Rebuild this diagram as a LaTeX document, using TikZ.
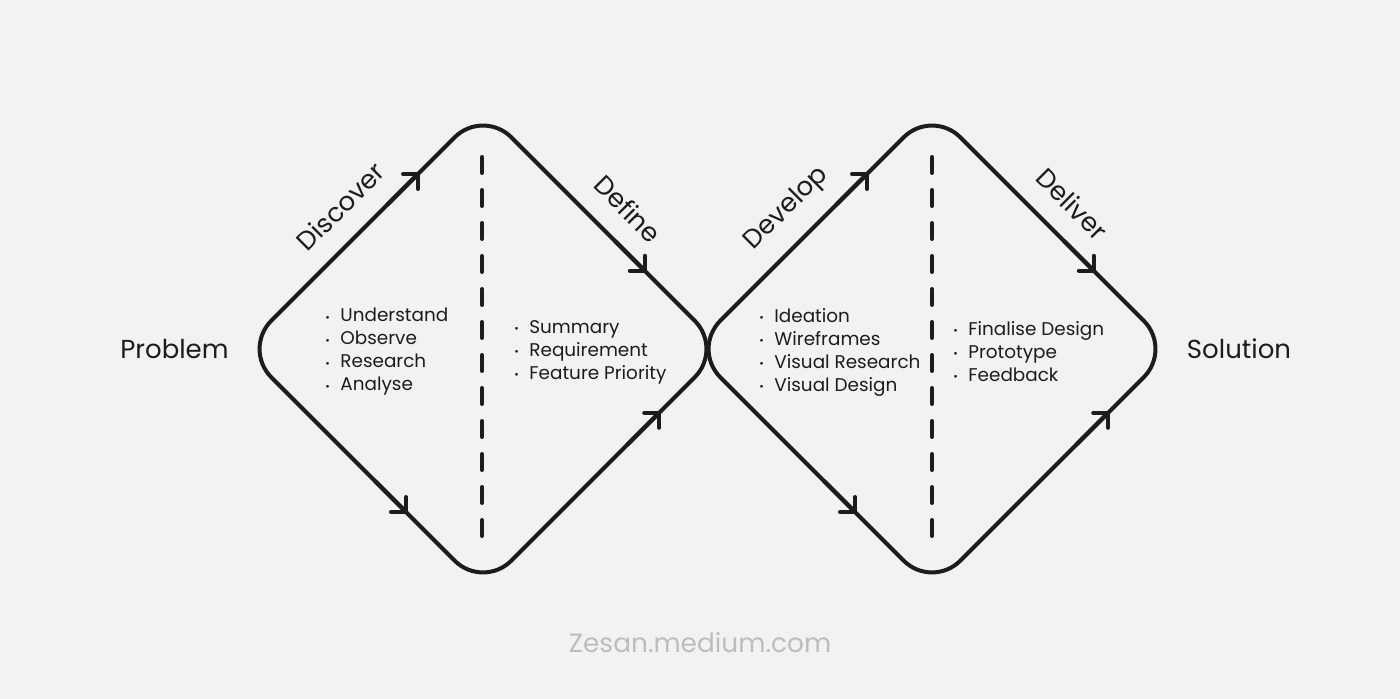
\documentclass[tikz,border=0pt]{standalone}
\usepackage{fontspec}
\setmainfont{Poppins}
\usetikzlibrary{arrows.meta, calc}

\definecolor{fondo}{HTML}{F2F2F2}
\definecolor{trazo}{HTML}{1C1C1C}
\definecolor{marca}{HTML}{BDBDBD}

\newcommand{\punto}{\makebox[7.5pt][l]{\raisebox{0.05em}{\scalebox{0.6}{\textbullet}}}}

\begin{document}
\begin{tikzpicture}[x=0.5pt, y=-0.5pt]
    \tikzset{
		loopline/.style={draw=trazo, line width=2pt, rounded corners=20pt, line join=round},
		flow/.style={draw=trazo, line width=2pt, -{Straight Barb[length=5.3pt, width=10.6pt, round]}},
		divider/.style={draw=trazo, line width=2pt, line cap=round, dash pattern=on 8pt off 8.5pt},
		phase/.style={font=\fontsize{13}{15}\selectfont, text=trazo, sloped, above=16pt, inner sep=0pt, anchor=center},
		items/.style={font=\fontsize{9.2}{11.5}\selectfont, text=trazo, align=left, inner sep=0pt, anchor=west},
		edge/.style={font=\fontsize{13}{15}\selectfont, text=trazo, inner sep=0pt},
		watermark/.style={font=\fontsize{13.2}{15}\selectfont, text=marca, inner sep=0pt}
	}
	% --- Fondo ---
	\fill[fondo] (0,0) rectangle (1400,699);
	\useasboundingbox (0,0) rectangle (1400,699);

	% --- Esquinas de los rombos ---
	\coordinate (L1) at (243,349);
	\coordinate (T1) at (483,109);
	\coordinate (R1) at (723,349);
	\coordinate (B1) at (483,589);
	\coordinate (L2) at (692,349);
	\coordinate (T2) at (932,109);
	\coordinate (R2) at (1172,349);
	\coordinate (B2) at (932,589);

	% --- Rombos ---
	\draw[loopline] (L1) -- (T1) -- (R1) -- (B1) -- cycle;
	\draw[loopline] (L2) -- (T2) -- (R2) -- (B2) -- cycle;

	% --- Separadores ---
	\coordinate (d1_top) at (482,157);
	\coordinate (d1_bot) at (482,545);
	\coordinate (d2_top) at (932,157);
	\coordinate (d2_bot) at (932,545);
	\draw[divider] (d1_top) -- (d1_bot);
	\draw[divider] (d2_top) -- (d2_bot);

	% --- Flechas sobre los lados ---
	\foreach \l/\t/\r/\b in {L1/T1/R1/B1, L2/T2/R2/B2}{
		\draw[flow] ($(\l)!0.6!(\t)$) -- ($(\l)!0.735!(\t)$);
		\draw[flow] ($(\l)!0.55!(\b)$) -- ($(\l)!0.685!(\b)$);
		\draw[flow] ($(\t)!0.55!(\r)$) -- ($(\t)!0.68!(\r)$);
		\draw[flow] ($(\b)!0.6!(\r)$) -- ($(\b)!0.74!(\r)$);
	}

	% --- Etapas ---
	\path (L1) -- node[phase, pos=0.50] (discover) {Discover} (T1);
	\path (T1) -- node[phase, pos=0.51] (define) {Define} (R1);
	\path (L2) -- node[phase, pos=0.49] (develop) {Develop} (T2);
	\path (T2) -- node[phase, pos=0.49] (deliver) {Deliver} (R2);

	% --- Extremos ---
	\node[edge] (problem) at (174.5,349) {Problem};
	\node[edge] (solution) at (1239,349) {Solution};

	% --- Listas ---
	\node[items] (discover_list) at (325,352) {\punto Understand\\ \punto Observe\\ \punto Research\\ \punto Analyse};
	\node[items] (define_list) at (514,352) {\punto Summary\\ \punto Requirement\\ \punto Feature Priority};
	\node[items] (develop_list) at (759,352) {\punto Ideation\\ \punto Wireframes\\ \punto Visual Research\\ \punto Visual Design};
	\node[items] (deliver_list) at (953,352) {\punto Finalise Design\\ \punto Prototype\\ \punto Feedback};

	% --- Firma ---
	\node[watermark] (site) at (700,643) {Zesan.medium.com};
\end{tikzpicture}
\end{document}
